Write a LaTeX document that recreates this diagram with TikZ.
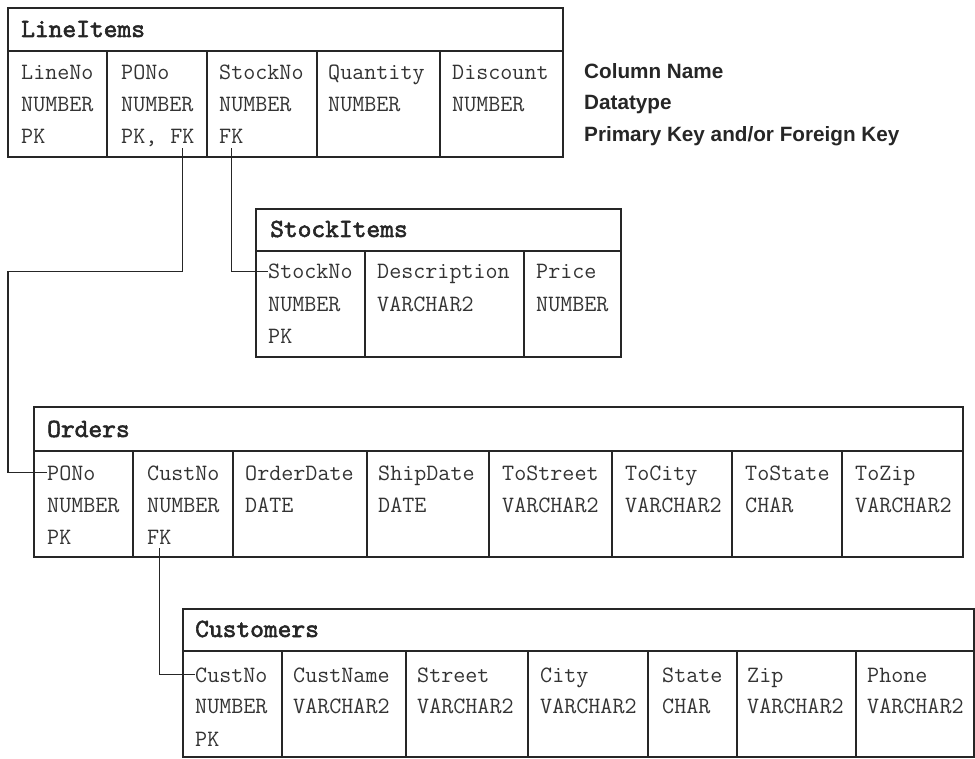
\documentclass[tikz,border=0pt]{standalone}
\usepackage{fontspec}
\newfontfamily\dbsans{Liberation Sans}
\newfontfamily\dbttl[FakeBold=2.2]{lmmono10-regular.otf}
\definecolor{ink}{HTML}{262626}
\definecolor{txt}{HTML}{333333}
\tikzset{
  frame/.style={draw=ink, line width=1.8pt},
  link/.style={draw=ink, line width=1.2pt},
  cell/.style={anchor=base west, inner sep=0pt, text=txt, font=\ttfamily\fontsize{23.4}{26}\selectfont},
  ttl/.style={anchor=base west, inner sep=0pt, text=ink, font=\dbttl\fontsize{26.2}{29}\selectfont},
  lbl/.style={anchor=base west, inner sep=0pt, text=ink, font=\dbsans\bfseries\fontsize{20.7}{24}\selectfont},
}
\newcommand{\tblframe}[6]{%
  \draw[frame] (#1,#3) rectangle (#2,#5);
  \draw[frame] (#1,#4) -- (#2,#4);
  \foreach \d in {#6} \draw[frame] (\d,#4) -- (\d,#5);
}
\begin{document}
\begin{tikzpicture}[x=1pt,y=-1pt]
\useasboundingbox (0,0) rectangle (975,759);

% ---------- LineItems ----------
\tblframe{8}{563}{8}{51}{157}{107,207,317,440}
\node[ttl] (liT) at (21,37) {LineItems};
\node[cell] (liLN)  at (21,80)  {LineNo};
\node[cell] (liLNt) at (21,112) {NUMBER};
\node[cell] (liLNk) at (21,144) {PK};
\node[cell] (liPO)  at (121,80)  {PONo};
\node[cell] (liPOt) at (121,112) {NUMBER};
\node[cell] (liPOk) at (121,144) {PK,};
\node[cell] (liPOfk) at (170.2,144) {FK};
\node[cell] (liSN)  at (219,80)  {StockNo};
\node[cell] (liSNt) at (219,112) {NUMBER};
\node[cell] (liSNfk) at (219,144) {FK};
\node[cell] (liQ)   at (328,80)  {Quantity};
\node[cell] (liQt)  at (328,112) {NUMBER};
\node[cell] (liD)   at (452,80)  {Discount};
\node[cell] (liDt)  at (452,112) {NUMBER};

% legend
\node[lbl] (lg1) at (584,79)  {Column Name};
\node[lbl] (lg2) at (584,110) {Datatype};
\node[lbl] (lg3) at (584,142) {Primary Key and/or Foreign Key};

% ---------- StockItems ----------
\tblframe{256}{621}{209}{251}{357}{365,524}
\node[ttl] (siT) at (270,237) {StockItems};
\node[cell] (siSN)  at (268,279) {StockNo};
\node[cell] (siSNt) at (268,312) {NUMBER};
\node[cell] (siSNk) at (268,344) {PK};
\node[cell] (siDe)  at (377,279) {Description};
\node[cell] (siDet) at (377,312) {VARCHAR2};
\node[cell] (siPr)  at (536,279) {Price};
\node[cell] (siPrt) at (536,312) {NUMBER};

% ---------- Orders ----------
\tblframe{34}{963}{407}{451}{557}{133,233,367,489,612,732,842}
\node[ttl] (orT) at (47,437) {Orders};
\node[cell] (orPO)  at (47,480) {PONo};
\node[cell] (orPOt) at (47,512) {NUMBER};
\node[cell] (orPOk) at (47,544) {PK};
\node[cell] (orCN)  at (147,480) {CustNo};
\node[cell] (orCNt) at (147,512) {NUMBER};
\node[cell] (orCNfk) at (147,544) {FK};
\node[cell] (orOD)  at (245,480) {OrderDate};
\node[cell] (orODt) at (245,512) {DATE};
\node[cell] (orSD)  at (378,480) {ShipDate};
\node[cell] (orSDt) at (378,512) {DATE};
\node[cell] (orTS)  at (502,480) {ToStreet};
\node[cell] (orTSt) at (502,512) {VARCHAR2};
\node[cell] (orTC)  at (625,480) {ToCity};
\node[cell] (orTCt) at (625,512) {VARCHAR2};
\node[cell] (orTSa) at (745,480) {ToState};
\node[cell] (orTSat) at (745,512) {CHAR};
\node[cell] (orTZ)  at (855,480) {ToZip};
\node[cell] (orTZt) at (855,512) {VARCHAR2};

% ---------- Customers ----------
\tblframe{183}{974}{609}{651}{757}{282,406,528,648,737,856}
\node[ttl] (cuT) at (195,637) {Customers};
\node[cell] (cuCN)  at (195,682) {CustNo};
\node[cell] (cuCNt) at (195,713) {NUMBER};
\node[cell] (cuCNk) at (195,746) {PK};
\node[cell] (cuNm)  at (293,682) {CustName};
\node[cell] (cuNmt) at (293,713) {VARCHAR2};
\node[cell] (cuSt)  at (417,682) {Street};
\node[cell] (cuStt) at (417,713) {VARCHAR2};
\node[cell] (cuCi)  at (540,682) {City};
\node[cell] (cuCit) at (540,713) {VARCHAR2};
\node[cell] (cuSa)  at (662,682) {State};
\node[cell] (cuSat) at (662,713) {CHAR};
\node[cell] (cuZp)  at (747,682) {Zip};
\node[cell] (cuZpt) at (747,713) {VARCHAR2};
\node[cell] (cuPh)  at (867,682) {Phone};
\node[cell] (cuPht) at (867,713) {VARCHAR2};

% ---------- connectors ----------
\coordinate (pA) at ([yshift=-4pt]liPOfk.south);
\coordinate (pB) at (pA |- siSN.west);
\coordinate (pC) at (8,0);
\draw[link] (pA) -- (pB) -- (pC |- pB) -- (pC |- orPO.west) -- (orPO.west);
\draw[link] ([yshift=-4pt]liSNfk.south) |- (siSN.west);
\draw[link] ([yshift=-4pt]orCNfk.south) |- (cuCN.west);
\end{tikzpicture}
\end{document}
